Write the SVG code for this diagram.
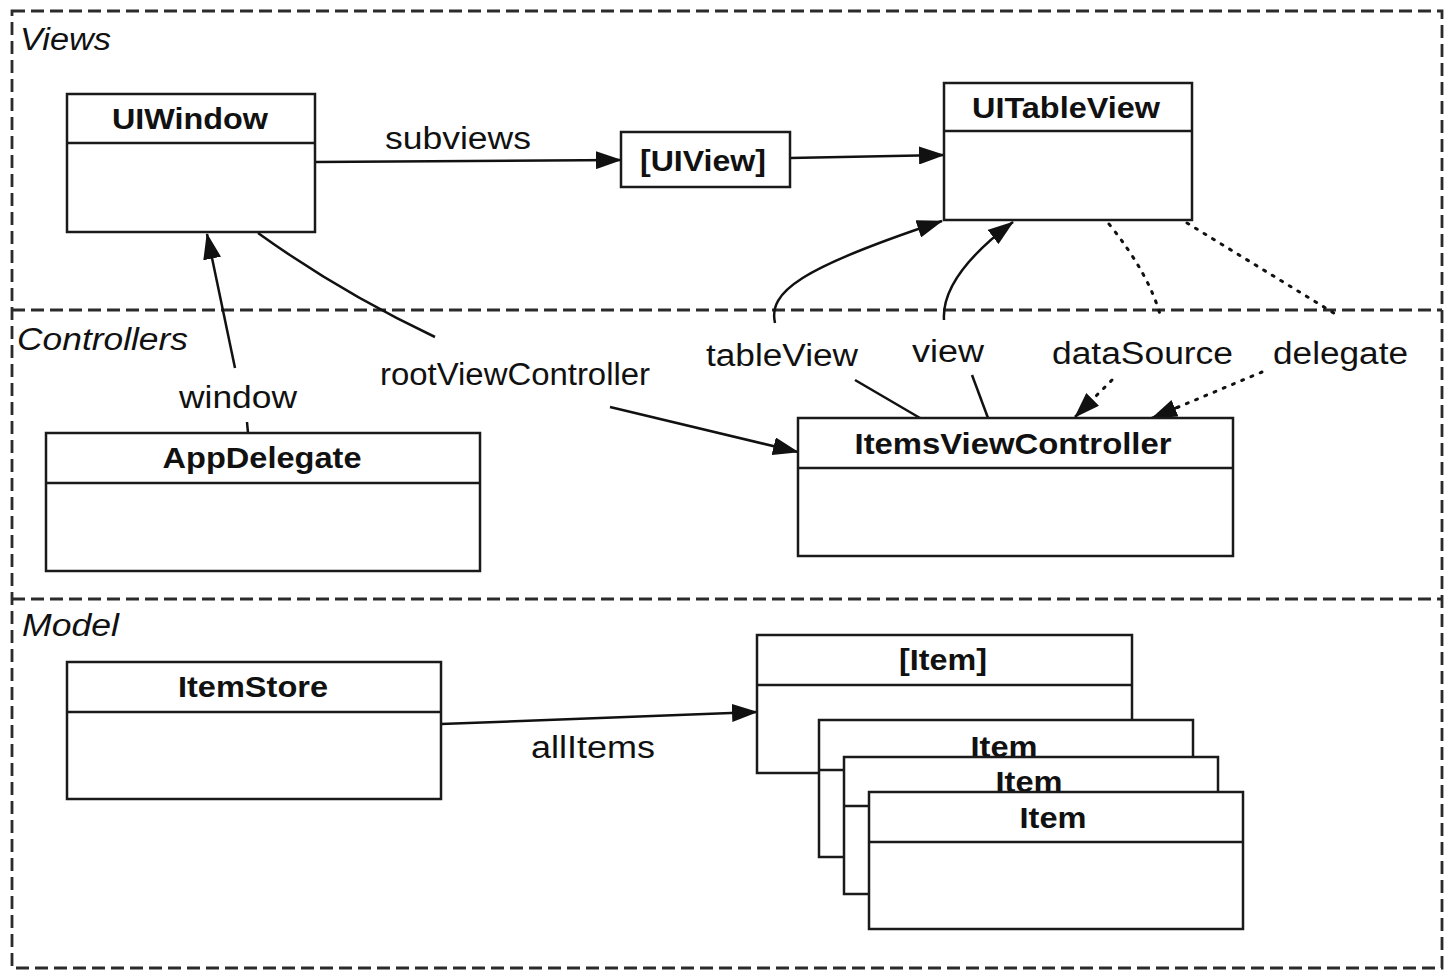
<svg xmlns="http://www.w3.org/2000/svg" width="1447" height="971" viewBox="0 0 1447 971">
<style>
  .frame{fill:none;stroke:#2b2b2b;stroke-width:2.8;stroke-dasharray:13 6}
  .box{fill:#fff;stroke:#1a1a1a;stroke-width:2.5}
  .div{stroke:#1a1a1a;stroke-width:2.5}
  .title{font-family:"Liberation Sans",Arial,sans-serif;font-weight:bold;font-size:30px;fill:#111;text-anchor:middle}
  .lbl{font-family:"Liberation Sans",Arial,sans-serif;font-size:31px;fill:#111}
  .sec{font-family:"Liberation Sans",Arial,sans-serif;font-style:italic;font-size:31px;fill:#111}
  .con{fill:none;stroke:#111;stroke-width:2.5}
  .dot{fill:none;stroke:#111;stroke-width:3;stroke-dasharray:2 8;stroke-linecap:round}
</style>
<defs>
  <marker id="arr" markerUnits="userSpaceOnUse" markerWidth="26" markerHeight="18" refX="25" refY="9" orient="auto" viewBox="0 0 26 18">
    <path d="M0,0 L26,9 L0,18 z" fill="#111"/>
  </marker>
</defs>
<rect width="1447" height="971" fill="#fff"/>

<g id="sections">
  <rect class="frame" x="12" y="11" width="1430" height="957"/>
  <line class="frame" x1="12" y1="310" x2="1442" y2="310"/>
  <line class="frame" x1="12" y1="599" x2="1442" y2="599"/>
  <text class="sec" x="20" y="50" textLength="91" lengthAdjust="spacingAndGlyphs">Views</text>
  <text class="sec" x="17" y="350" textLength="171" lengthAdjust="spacingAndGlyphs">Controllers</text>
  <text class="sec" x="22" y="636" textLength="97" lengthAdjust="spacingAndGlyphs">Model</text>
</g>

<g id="connectors">
  <path class="con" d="M315,162 L621,160" marker-end="url(#arr)"/>
  <text class="lbl" x="385" y="149" textLength="146" lengthAdjust="spacingAndGlyphs">subviews</text>
  <path class="con" d="M790,158 L944,155" marker-end="url(#arr)"/>

  <path class="con" d="M235,368 L207,234" marker-end="url(#arr)"/>
  <path class="con" d="M247,422 L248,433"/>
  <text class="lbl" x="179" y="408" textLength="118" lengthAdjust="spacingAndGlyphs">window</text>

  <path class="con" d="M258,233 Q340,292 435,337"/>
  <path class="con" d="M610,407 L798,452" marker-end="url(#arr)"/>
  <text class="lbl" x="380" y="385" textLength="270" lengthAdjust="spacingAndGlyphs">rootViewController</text>

  <path class="con" d="M920,418 L855,380"/>
  <path class="con" d="M775,323 C768,292 800,268 942,221" marker-end="url(#arr)"/>
  <text class="lbl" x="706" y="366" textLength="152" lengthAdjust="spacingAndGlyphs">tableView</text>

  <path class="con" d="M988,418 L972,375"/>
  <path class="con" d="M944,320 C942,290 965,258 1013,222" marker-end="url(#arr)"/>
  <text class="lbl" x="912" y="362" textLength="72" lengthAdjust="spacingAndGlyphs">view</text>

  <path class="dot" d="M1109,224 Q1150,275 1161,318"/>
  <path class="dot" d="M1112,380 L1090,402"/>
  <path class="con" d="M1092,400 L1075,417" marker-end="url(#arr)" stroke="none"/>
  <text class="lbl" x="1052" y="364" textLength="181" lengthAdjust="spacingAndGlyphs">dataSource</text>

  <path class="dot" d="M1187,223 L1337,315"/>
  <path class="dot" d="M1262,372 L1176,408"/>
  <path class="con" d="M1178,407 L1152,418" marker-end="url(#arr)" stroke="none"/>
  <text class="lbl" x="1273" y="364" textLength="135" lengthAdjust="spacingAndGlyphs">delegate</text>

  <path class="con" d="M441,724 L757,712" marker-end="url(#arr)"/>
  <text class="lbl" x="531" y="758" textLength="124" lengthAdjust="spacingAndGlyphs">allItems</text>
</g>

<g id="UIWindow">
  <rect class="box" x="67" y="94" width="248" height="138"/>
  <line class="div" x1="67" y1="143" x2="315" y2="143"/>
  <text class="title" x="190" y="129" textLength="156" lengthAdjust="spacingAndGlyphs">UIWindow</text>
</g>
<g id="UIViewArray">
  <rect class="box" x="621" y="132" width="169" height="55"/>
  <text class="title" x="703" y="171" textLength="126" lengthAdjust="spacingAndGlyphs">[UIView]</text>
</g>
<g id="UITableView">
  <rect class="box" x="944" y="83" width="248" height="137"/>
  <line class="div" x1="944" y1="131" x2="1192" y2="131"/>
  <text class="title" x="1066" y="118" textLength="188" lengthAdjust="spacingAndGlyphs">UITableView</text>
</g>
<g id="AppDelegate">
  <rect class="box" x="46" y="433" width="434" height="138"/>
  <line class="div" x1="46" y1="483" x2="480" y2="483"/>
  <text class="title" x="262" y="468" textLength="199" lengthAdjust="spacingAndGlyphs">AppDelegate</text>
</g>
<g id="ItemsViewController">
  <rect class="box" x="798" y="418" width="435" height="138"/>
  <line class="div" x1="798" y1="468" x2="1233" y2="468"/>
  <text class="title" x="1013" y="454" textLength="317" lengthAdjust="spacingAndGlyphs">ItemsViewController</text>
</g>
<g id="ItemStore">
  <rect class="box" x="67" y="662" width="374" height="137"/>
  <line class="div" x1="67" y1="712" x2="441" y2="712"/>
  <text class="title" x="253" y="697" textLength="150" lengthAdjust="spacingAndGlyphs">ItemStore</text>
</g>
<g id="ItemArray">
  <rect class="box" x="757" y="635" width="375" height="138"/>
  <line class="div" x1="757" y1="685" x2="1132" y2="685"/>
  <text class="title" x="943" y="670" textLength="88" lengthAdjust="spacingAndGlyphs">[Item]</text>
</g>
<g id="Item1">
  <rect class="box" x="819" y="720" width="374" height="137"/>
  <line class="div" x1="819" y1="770" x2="1193" y2="770"/>
  <text class="title" x="1004" y="757" textLength="67" lengthAdjust="spacingAndGlyphs">Item</text>
</g>
<g id="Item2">
  <rect class="box" x="844" y="757" width="374" height="137"/>
  <line class="div" x1="844" y1="806" x2="1218" y2="806"/>
  <text class="title" x="1029" y="792" textLength="67" lengthAdjust="spacingAndGlyphs">Item</text>
</g>
<g id="Item3">
  <rect class="box" x="869" y="792" width="374" height="137"/>
  <line class="div" x1="869" y1="842" x2="1243" y2="842"/>
  <text class="title" x="1053" y="828" textLength="67" lengthAdjust="spacingAndGlyphs">Item</text>
</g>
</svg>
